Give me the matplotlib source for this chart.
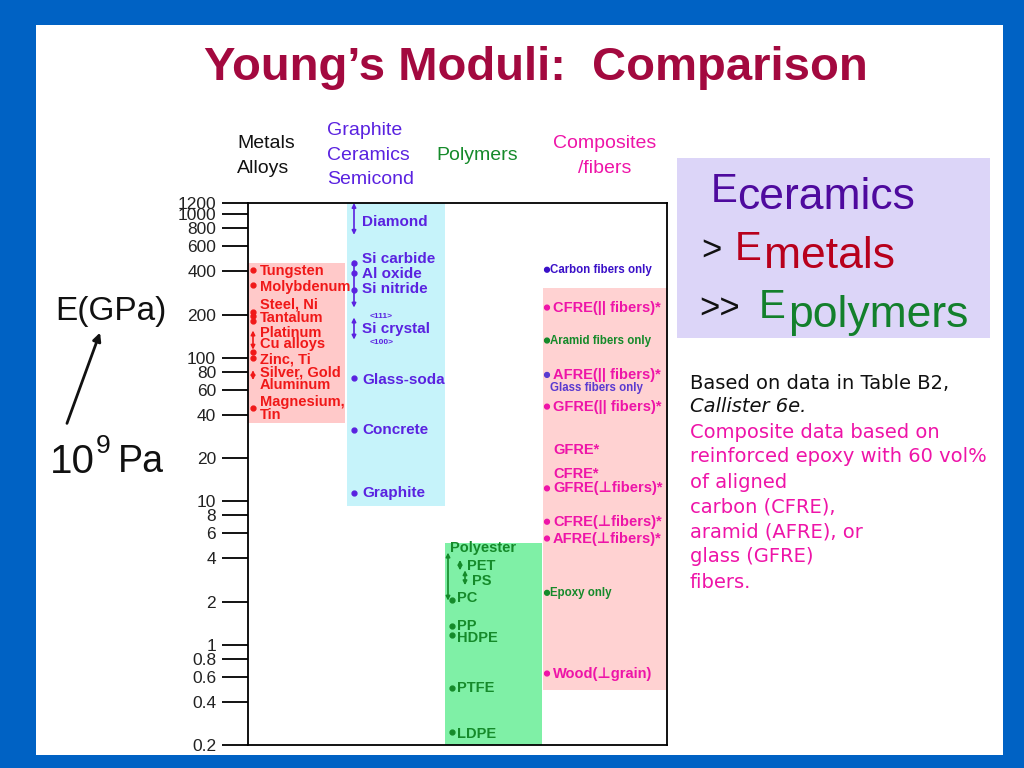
import matplotlib
matplotlib.use("Agg")
import matplotlib.pyplot as plt
from matplotlib.patches import Rectangle

# ---- data (E in GPa) ----
columns = ["Metals\nAlloys", "Graphite\nCeramics\nSemicond", "Polymers", "Composites\n/fibers"]
band_low = [35, 9.3, 0.2, 0.48]
band_high = [460, 1200, 5.15, 308]

metal_names = ["Tungsten", "Molybdenum", "Steel, Ni", "Tantalum", "Platinum", "Cu alloys",
               "Zinc, Ti", "Silver, Gold", "Aluminum", "Magnesium,", "Tin"]
metal_label_E = [405, 313, 235, 188, 150, 124, 97, 79, 65, 49, 40]
metal_points = [407, 320, 210, 196, 182, 109, 100, 45]
metal_ranges = [(114, 155), (70, 82)]

ceramic_names = ["Diamond", "Si carbide", "Al oxide", "Si nitride", "<111>", "Si crystal", "<100>",
                 "Glass-soda", "Concrete", "Graphite"]
ceramic_label_E = [890, 491, 386, 303, 195, 160, 128, 70, 31.6, 11.5]
ceramic_points = [460, 392, 298, 72, 31.6, 11.5]
ceramic_ranges = [(720, 1200), (224, 483), (134, 191)]

polymer_names = ["Polyester", "PET", "PS", "PC", "PP", "HDPE", "PTFE", "LDPE"]
polymer_label_E = [4.76, 3.56, 2.76, 2.13, 1.36, 1.12, 0.50, 0.24]
polymer_points = [2.05, 1.36, 1.16, 0.50, 0.245]
polymer_ranges = [(2.03, 4.39), (3.3, 3.9), (2.6, 3.3)]

comp_names = ["Carbon fibers only", "CFRE(|| fibers)*", "Aramid fibers only", "AFRE(|| fibers)*",
              "Glass fibers only", "GFRE(|| fibers)*", "GFRE*", "CFRE*", "GFRE(\u22a5fibers)*",
              "CFRE(\u22a5fibers)*", "AFRE(\u22a5fibers)*", "Epoxy only", "Wood(\u22a5grain)"]
comp_label_E = [411, 224, 132, 76, 62, 45.7, 22.6, 15.4, 12.3, 7.2, 5.5, 2.3, 0.63]
comp_points = [411, 224, 132, 76, 45.7, 12.3, 7.2, 5.5, 2.3, 0.63]

yticks = [0.2, 0.4, 0.6, 0.8, 1, 2, 4, 6, 8, 10, 20, 40, 60, 80, 100, 200, 400, 600, 800, 1000, 1200]
ytick_labels = ["0.2", "0.4", "0.6", "0.8", "1", "2", "4", "6", "8", "10", "20", "40", "60", "80",
                "100", "200", "400", "600", "800", "1000", "1200"]

notes_black = ["Based on data in Table B2,", "Callister 6e."]
notes_pink = ["Composite data based on", "reinforced epoxy with 60 vol%", "of aligned",
              "carbon (CFRE),", "aramid (AFRE), or", "glass (GFRE)", "fibers."]

# ---- styles ----
SANS = ["Liberation Sans", "DejaVu Sans"]

RED = "#f01818"
VIOLET = "#5a22e0"
GREEN = "#158a2a"
MAGENTA = "#ee14a8"
band_colors = ["#ffc9c9", "#c6f3fa", "#7ff0a6", "#ffd2d2"]
band_left = [0.0, 0.99, 1.97, 2.95]
band_width = [0.97, 0.98, 0.97, 1.24]

fig = plt.figure(figsize=(10.24, 7.68), dpi=100)
fig.patch.set_facecolor("#0062c4")


def fx(x):
    return x / 1024


def fy(y):
    return 1 - y / 768


fig.add_artist(Rectangle((fx(36), fy(755)), fx(967), 730 / 768, transform=fig.transFigure,
                         facecolor="white", edgecolor="none", zorder=-5))

ax = fig.add_axes([fx(248), fy(745), fx(419), 542 / 768])
ax.set_yscale("log")
ax.set_ylim(0.2, 1200)
ax.set_xlim(0, 4.19)
ax.set_xticks([])
ax.minorticks_off()
ax.set_yticks(yticks)
ax.set_yticklabels(ytick_labels, fontfamily=SANS, fontsize=12.5, color="#222222")
ax.tick_params(axis="y", direction="out", length=19, width=1.3, pad=4)
for s in ax.spines.values():
    s.set_linewidth(1.3)

# bands
for i in range(4):
    ax.bar(band_left[i], band_high[i] - band_low[i], bottom=band_low[i], width=band_width[i],
           align="edge", color=band_colors[i], zorder=1)


def rng(x, lo, hi, color):
    ax.annotate("", xy=(x, lo), xytext=(x, hi),
                arrowprops=dict(arrowstyle="<|-|>", color=color, lw=1.2, mutation_scale=6,
                                shrinkA=0, shrinkB=0), zorder=3)


# metals
mx = band_left[0] + 0.05
ax.plot([mx] * len(metal_points), metal_points, "o", ms=3.5, color=RED, zorder=3)
for lo, hi in metal_ranges:
    rng(mx, lo, hi, RED)
for name, e in zip(metal_names, metal_label_E):
    ax.text(mx + 0.07, e, name, color=RED, fontsize=10.5, fontweight="bold", fontfamily=SANS,
            va="center", ha="left", zorder=4)

# ceramics
cx = band_left[1] + 0.07
ax.plot([cx] * len(ceramic_points), ceramic_points, "o", ms=3.5, color=VIOLET, zorder=3)
for lo, hi in ceramic_ranges:
    rng(cx, lo, hi, VIOLET)
for name, e in zip(ceramic_names, ceramic_label_E):
    small = name.startswith("<")
    ax.text(cx + (0.16 if small else 0.08), e, name, color=VIOLET, fontsize=6 if small else 11,
            fontweight="bold", fontfamily=SANS, va="center", ha="left", zorder=4)

# polymers
px = band_left[2] + 0.07
polymer_range_dx = [-0.04, 0.08, 0.13]
polymer_label_dx = [-0.02, 0.15, 0.2, 0.05, 0.05, 0.05, 0.05, 0.05]
ax.plot([px] * len(polymer_points), polymer_points, "o", ms=3.5, color=GREEN, zorder=3)
for (lo, hi), dx in zip(polymer_ranges, polymer_range_dx):
    rng(px + dx, lo, hi, GREEN)
for name, e, dx in zip(polymer_names, polymer_label_E, polymer_label_dx):
    ax.text(px + dx, e, name, color=GREEN, fontsize=10.5, fontweight="bold", fontfamily=SANS,
            va="center", ha="left", zorder=4)

# composites
kx = band_left[3] + 0.04
comp_colors = ["#3a10c8", MAGENTA, GREEN, MAGENTA, "#5a3ad0", MAGENTA, MAGENTA, MAGENTA,
               MAGENTA, MAGENTA, MAGENTA, GREEN, MAGENTA]
point_colors = ["#3a10c8", MAGENTA, GREEN, "#5a3ad0", MAGENTA, MAGENTA, MAGENTA, MAGENTA,
                GREEN, MAGENTA]
ax.scatter([kx] * len(comp_points), comp_points, s=12, c=point_colors, zorder=3)
for name, e, col in zip(comp_names, comp_label_E, comp_colors):
    small = "only" in name
    ax.text(kx + (0.03 if small else 0.06), e, name, color=col, fontsize=8.3 if small else 10.5,
            fontweight="bold", fontfamily=SANS, va="center", ha="left", zorder=4)

# column headings
head_colors = ["#111111", VIOLET, GREEN, MAGENTA]
head_x = [237, 327, 436, 605]
head_y = [156, 155, 155, 156]
head_ha = ["left", "left", "left", "center"]
for name, col, x, y, ha in zip(columns, head_colors, head_x, head_y, head_ha):
    fig.text(fx(x), fy(y), name, color=col, fontsize=14, fontfamily=SANS, ha=ha, va="center",
             linespacing=1.55, multialignment="center" if ha == "center" else "left")

# title
fig.text(fx(536), fy(68), "Young\u2019s Moduli:  Comparison", color="#a3093f", fontsize=34,
         fontweight="bold", fontfamily=SANS, ha="center", va="center")

# E(GPa) / 10^9 Pa
fig.text(fx(55), fy(311), "E(GPa)", fontsize=24, fontfamily=SANS, color="#111111",
         ha="left", va="center")
fig.text(fx(50), fy(462), "10", fontsize=29, fontfamily=SANS, color="#111111", ha="left", va="center")
fig.text(fx(96), fy(446), "9", fontsize=19, fontfamily=SANS, color="#111111", ha="left", va="center")
fig.text(fx(118), fy(462), "Pa", fontsize=27, fontfamily=SANS, color="#111111", ha="left", va="center")
ax.annotate("", xy=(fx(101), fy(330)), xytext=(fx(66), fy(426)), xycoords="figure fraction",
            textcoords="figure fraction",
            arrowprops=dict(arrowstyle="-|>", color="#111111", lw=2, mutation_scale=12))

# comparison box
fig.add_artist(Rectangle((fx(677), fy(338)), fx(313), 180 / 768, transform=fig.transFigure,
                         facecolor="#dcd5f8", edgecolor="none", zorder=-1))
fig.text(fx(711), fy(202), "E", fontsize=29, fontfamily=SANS, color="#4e0a9e", va="baseline")
fig.text(fx(737), fy(209), "ceramics", fontsize=32, fontfamily=SANS, color="#4e0a9e", va="baseline")
fig.text(fx(701), fy(260), ">", fontsize=25, fontfamily=SANS, color="#111111", va="baseline")
fig.text(fx(735), fy(260), "E", fontsize=29, fontfamily=SANS, color="#b8001c", va="baseline")
fig.text(fx(764), fy(268), "metals", fontsize=32, fontfamily=SANS, color="#b8001c", va="baseline")
fig.text(fx(699), fy(318), ">>", fontsize=25, fontfamily=SANS, color="#111111", va="baseline")
fig.text(fx(759), fy(318), "E", fontsize=29, fontfamily=SANS, color="#13802c", va="baseline")
fig.text(fx(788), fy(327), "polymers", fontsize=32, fontfamily=SANS, color="#13802c", va="baseline")

# notes
note_y = [383, 407, 433, 457, 482, 507, 532, 557, 582]
for i, line in enumerate(notes_black + notes_pink):
    fig.text(fx(690), fy(note_y[i]), line, fontsize=14, fontfamily="DejaVu Sans",
             color="#111111" if i < 2 else MAGENTA, style="italic" if i == 1 else "normal",
             ha="left", va="center")

fig.savefig("out.png", dpi=100, facecolor=fig.get_facecolor())
